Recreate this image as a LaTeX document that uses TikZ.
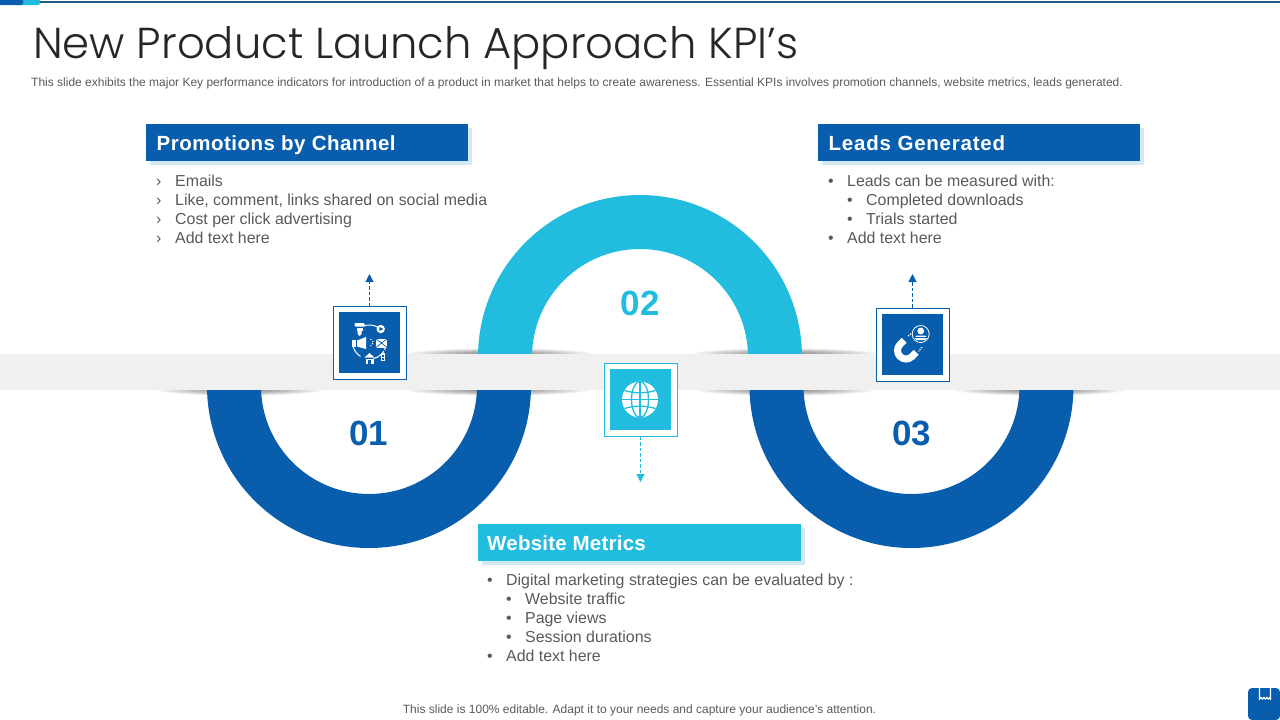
\documentclass[tikz,border=0pt]{standalone}
\usepackage{fontspec}
\setmainfont{Liberation Sans}
\newfontfamily\titlefont[UprightFont={* Light}]{Poppins}
\newfontfamily\headfont[LetterSpace=2.4,BoldFont={Liberation Sans Bold}]{Liberation Sans}
\usetikzlibrary{arrows.meta}
\definecolor{kblue}{HTML}{085EAD}
\definecolor{kcyan}{HTML}{22BDDE}
\definecolor{kband}{HTML}{F0F0F0}
\definecolor{ktext}{HTML}{595959}
\definecolor{kline}{HTML}{1F5B82}
\definecolor{kshadow}{HTML}{D3E8F5}
\newcommand{\blt}[1]{\makebox[19pt][l]{#1}}
\tikzset{
  x=1pt,y=-1pt,
  headbox/.style={anchor=north west,minimum width=322pt,minimum height=37pt,inner sep=0pt,text=white,font=\headfont\bfseries\fontsize{20.5}{24}\selectfont,text depth=0pt},
  bodytext/.style={anchor=north west,inner sep=0pt,align=left,text=ktext,font=\fontsize{15.9}{19}\selectfont},
  numlabel/.style={font=\bfseries\fontsize{35}{40}\selectfont,inner sep=0pt},
  frameb/.style={draw=#1,line width=1pt,fill=white,minimum width=73pt,minimum height=73pt,inner sep=0pt},
  tile/.style={fill=#1,minimum width=61pt,minimum height=61pt,inner sep=0pt},
  dasharrow/.style={draw=#1,line width=1.1pt,dash pattern=on 3.5pt off 2pt,-{Triangle[length=8pt,width=8pt]}},
  shadowlayer/.style={fill=black,fill opacity=0.05},
  iconline/.style={draw=white,line width=1pt},
}
\begin{document}
\begin{tikzpicture}
\useasboundingbox (0,0) rectangle (1280,720);
% top strip
\draw[kline,line width=1.2pt] (30,2) -- (1280,2);
\fill[kcyan,rounded corners=2pt] (14,-3) rectangle (40,5);
\fill[kblue,rounded corners=2pt] (-3,-3) rectangle (23,5);
% title and subtitle
\node[anchor=base west,inner sep=0pt,text=black!85,font=\titlefont\fontsize{43.3}{48}\selectfont] (title) at (33,58.5) {New Product Launch Approach KPI’s};
\node[anchor=base west,inner sep=0pt,text=ktext,font=\fontsize{12}{14}\selectfont] (sub) at (31,86) {This slide exhibits the major Key performance indicators for introduction of a product in market that helps to create awareness. Essential KPIs involves promotion channels, website metrics, leads generated.};
% band shadows
\foreach \cx/\cy/\hw in {500/354/92, 785/354/92, 240/390/82, 498/390/90, 785/390/88, 1040/390/84}{
  \foreach \k in {1,...,12}{
    \path[shadowlayer] (\cx,\cy) ellipse [x radius={\hw*\k/12*1pt},y radius={5.5*\k/12*1pt}];
  }
}
% rings
\begin{scope}
\clip (0,390) rectangle (1280,720);
\fill[kblue,even odd rule] (369,386) circle [radius=162pt] (369,386) circle [radius=108pt];
\fill[kblue,even odd rule] (911.5,386) circle [radius=162pt] (911.5,386) circle [radius=108pt];
\end{scope}
\begin{scope}
\clip (0,0) rectangle (1280,354);
\fill[kcyan,even odd rule] (640,357) circle [radius=162pt] (640,357) circle [radius=108pt];
\end{scope}
% band
\fill[kband] (0,354) rectangle (1280,390);
% numbers
\node[numlabel,text=kblue] (n1) at (368.5,433) {01};
\node[numlabel,text=kcyan] (n2) at (640,303) {02};
\node[numlabel,text=kblue] (n3) at (911.5,433) {03};
% headers
\fill[kshadow] (150,128) rectangle (472,165);
\node[headbox,fill=kblue] (h1) at (146,124) {\hspace*{10.5pt}\rlap{Promotions by Channel}\hspace*{311.5pt}};
\fill[kshadow] (822,128) rectangle (1144,165);
\node[headbox,fill=kblue] (h3) at (818,124) {\hspace*{10.5pt}\rlap{\addfontfeature{LetterSpace=3.8}Leads Generated}\hspace*{311.5pt}};
\fill[kshadow] (482,528) rectangle (805,565);
\node[headbox,fill=kcyan,minimum width=323pt] (h2) at (478,524) {\hspace*{9pt}\rlap{\addfontfeature{LetterSpace=1.1}Website Metrics}\hspace*{314pt}};
% lists
\node[bodytext] (t1) at (156,174.8) {\blt{›}Emails\\\blt{›}Like, comment, links shared on social media\\\blt{›}Cost per click advertising\\\blt{›}Add text here};
\node[bodytext] (t3) at (828,174.8) {\blt{•}Leads can be measured with:\\\hspace*{19pt}\blt{•}Completed downloads\\\hspace*{19pt}\blt{•}Trials started\\\blt{•}Add text here};
\node[bodytext] (t2) at (487,573.8) {\blt{•}Digital marketing strategies can be evaluated by :\\\hspace*{19pt}\blt{•}Website traffic\\\hspace*{19pt}\blt{•}Page views\\\hspace*{19pt}\blt{•}Session durations\\\blt{•}Add text here};
% icon frames
\node[frameb=kblue] (f1) at (369.5,343) {};
\node[tile=kblue] (i1) at (369.5,342.5) {};
\node[frameb=kcyan] (f2) at (640.5,399.5) {};
\node[tile=kcyan] (i2) at (640,399.5) {};
\node[frameb=kblue] (f3) at (912.5,344.5) {};
\node[tile=kblue] (i3) at (912,344.5) {};
% arrows
\coordinate (a1) at (369.5,274);
\coordinate (a2) at (640.5,482);
\coordinate (a3) at (912.5,274);
\draw[dasharrow=kblue] (f1.north) -- (a1);
\draw[dasharrow=kcyan] (f2.south) -- (a2);
\draw[dasharrow=kblue] (f3.north) -- (a3);
% icon 1: promotion channels
\begin{scope}[shift={(369.5,343)}]
\foreach \sa/\ea in {62/112,190/238,284/328,-28/-14}{
  \draw[iconline] (0,-1) ++(\sa:17pt) arc [start angle=\sa,end angle=\ea,radius=17pt];
}
% megaphone
\fill[white] (-17.5,-3) rectangle (-13.5,4);
\fill[white] (-12.5,-2.5) -- (-3.5,-6) -- (-3.5,6) -- (-12.5,3.5) -- cycle;
\draw[iconline,dash pattern=on 1.2pt off 1.6pt] (1,-4) -- (4,-1) -- (1,3);
% phone
\fill[white,rounded corners=1pt] (-15,-20) rectangle (-5,-16.5);
\fill[white] (-13,-15.5) rectangle (-7,-12);
\fill[white] (-12,-12) -- (-8,-12) -- (-8,-9) -- (-10,-7) -- (-12,-9) -- cycle;
% play
\fill[white] (11.2,-14) circle [radius=4.2pt];
\fill[kblue] (9.8,-16) -- (14,-14) -- (9.8,-12) -- cycle;
% mail
\fill[white] (6.5,-4) rectangle (17.5,4.5);
\draw[kblue,line width=.7pt] (6.5,-4) -- (12,0) -- (17.5,-4) (6.5,4.5) -- (12,0) -- (17.5,4.5);
% house
\fill[white] (-5,14.5) -- (0,10) -- (5,14.5) -- cycle;
\fill[white] (-4,15.5) rectangle (4,21);
\fill[kblue] (-1.5,17) rectangle (1.5,21);
% mobile
\fill[white] (11,10) rectangle (15.5,18);
\fill[kblue] (12,11.5) rectangle (14.5,13.5);
\fill[kblue] (12,14.5) rectangle (14.5,16.5);
\end{scope}
% icon 2: globe
\begin{scope}[shift={(640,399.5)}]
\fill[white] (0,0) circle [radius=18pt];
\draw[kcyan,line width=1.3pt] (0,-18) -- (0,18) (-18,0) -- (18,0);
\draw[kcyan,line width=1.3pt] (-15.5,-9) .. controls (-6,-6) and (6,-6) .. (15.5,-9);
\draw[kcyan,line width=1.3pt] (-15.5,9) .. controls (-6,6) and (6,6) .. (15.5,9);
\draw[kcyan,line width=1.3pt] (0,0) ellipse [x radius=8.5pt,y radius=18pt];
\end{scope}
% icon 3: magnet and person
\begin{scope}[shift={(912,344.5)}]
\draw[white,line width=7pt] (-7.8,-4.2) -- (-12,0) arc [start angle=135,end angle=315,radius=8.5pt] -- (4.2,7.8);
\draw[white,line width=.8pt] (8.7,-10.5) circle [radius=8.5pt];
\fill[white] (8.7,-13.5) circle [radius=3.4pt];
\fill[white,rounded corners=1.5pt] (3,-9) rectangle (14.5,-4.5);
\fill[kblue] (3,-8) rectangle (14.5,-7.3);
\draw[white,line width=1pt,dash pattern=on 1.5pt off 1pt] (-4,-8.5) -- (0,-11.5);
\draw[white,line width=1pt,dash pattern=on 1.5pt off 1pt] (10,2.5) -- (6.5,7);
\end{scope}
% footer
\node[anchor=base,inner sep=0pt,text=ktext,font=\fontsize{12}{14}\selectfont] (foot) at (639.5,713) {This slide is 100\% editable. Adapt it to your needs and capture your audience’s attention.};
% corner icon
\fill[kblue,rounded corners=4pt] (1248,688) rectangle (1280,720);
\draw[white,line width=1.2pt] (1259.5,688) -- (1259.5,699) .. controls (1261,697) .. (1262.5,699) .. controls (1264,697) .. (1265.5,699) .. controls (1267,697) .. (1268.5,699) .. controls (1269.5,697.5) .. (1270.5,699) -- (1270.5,688);
\end{tikzpicture}
\end{document}
